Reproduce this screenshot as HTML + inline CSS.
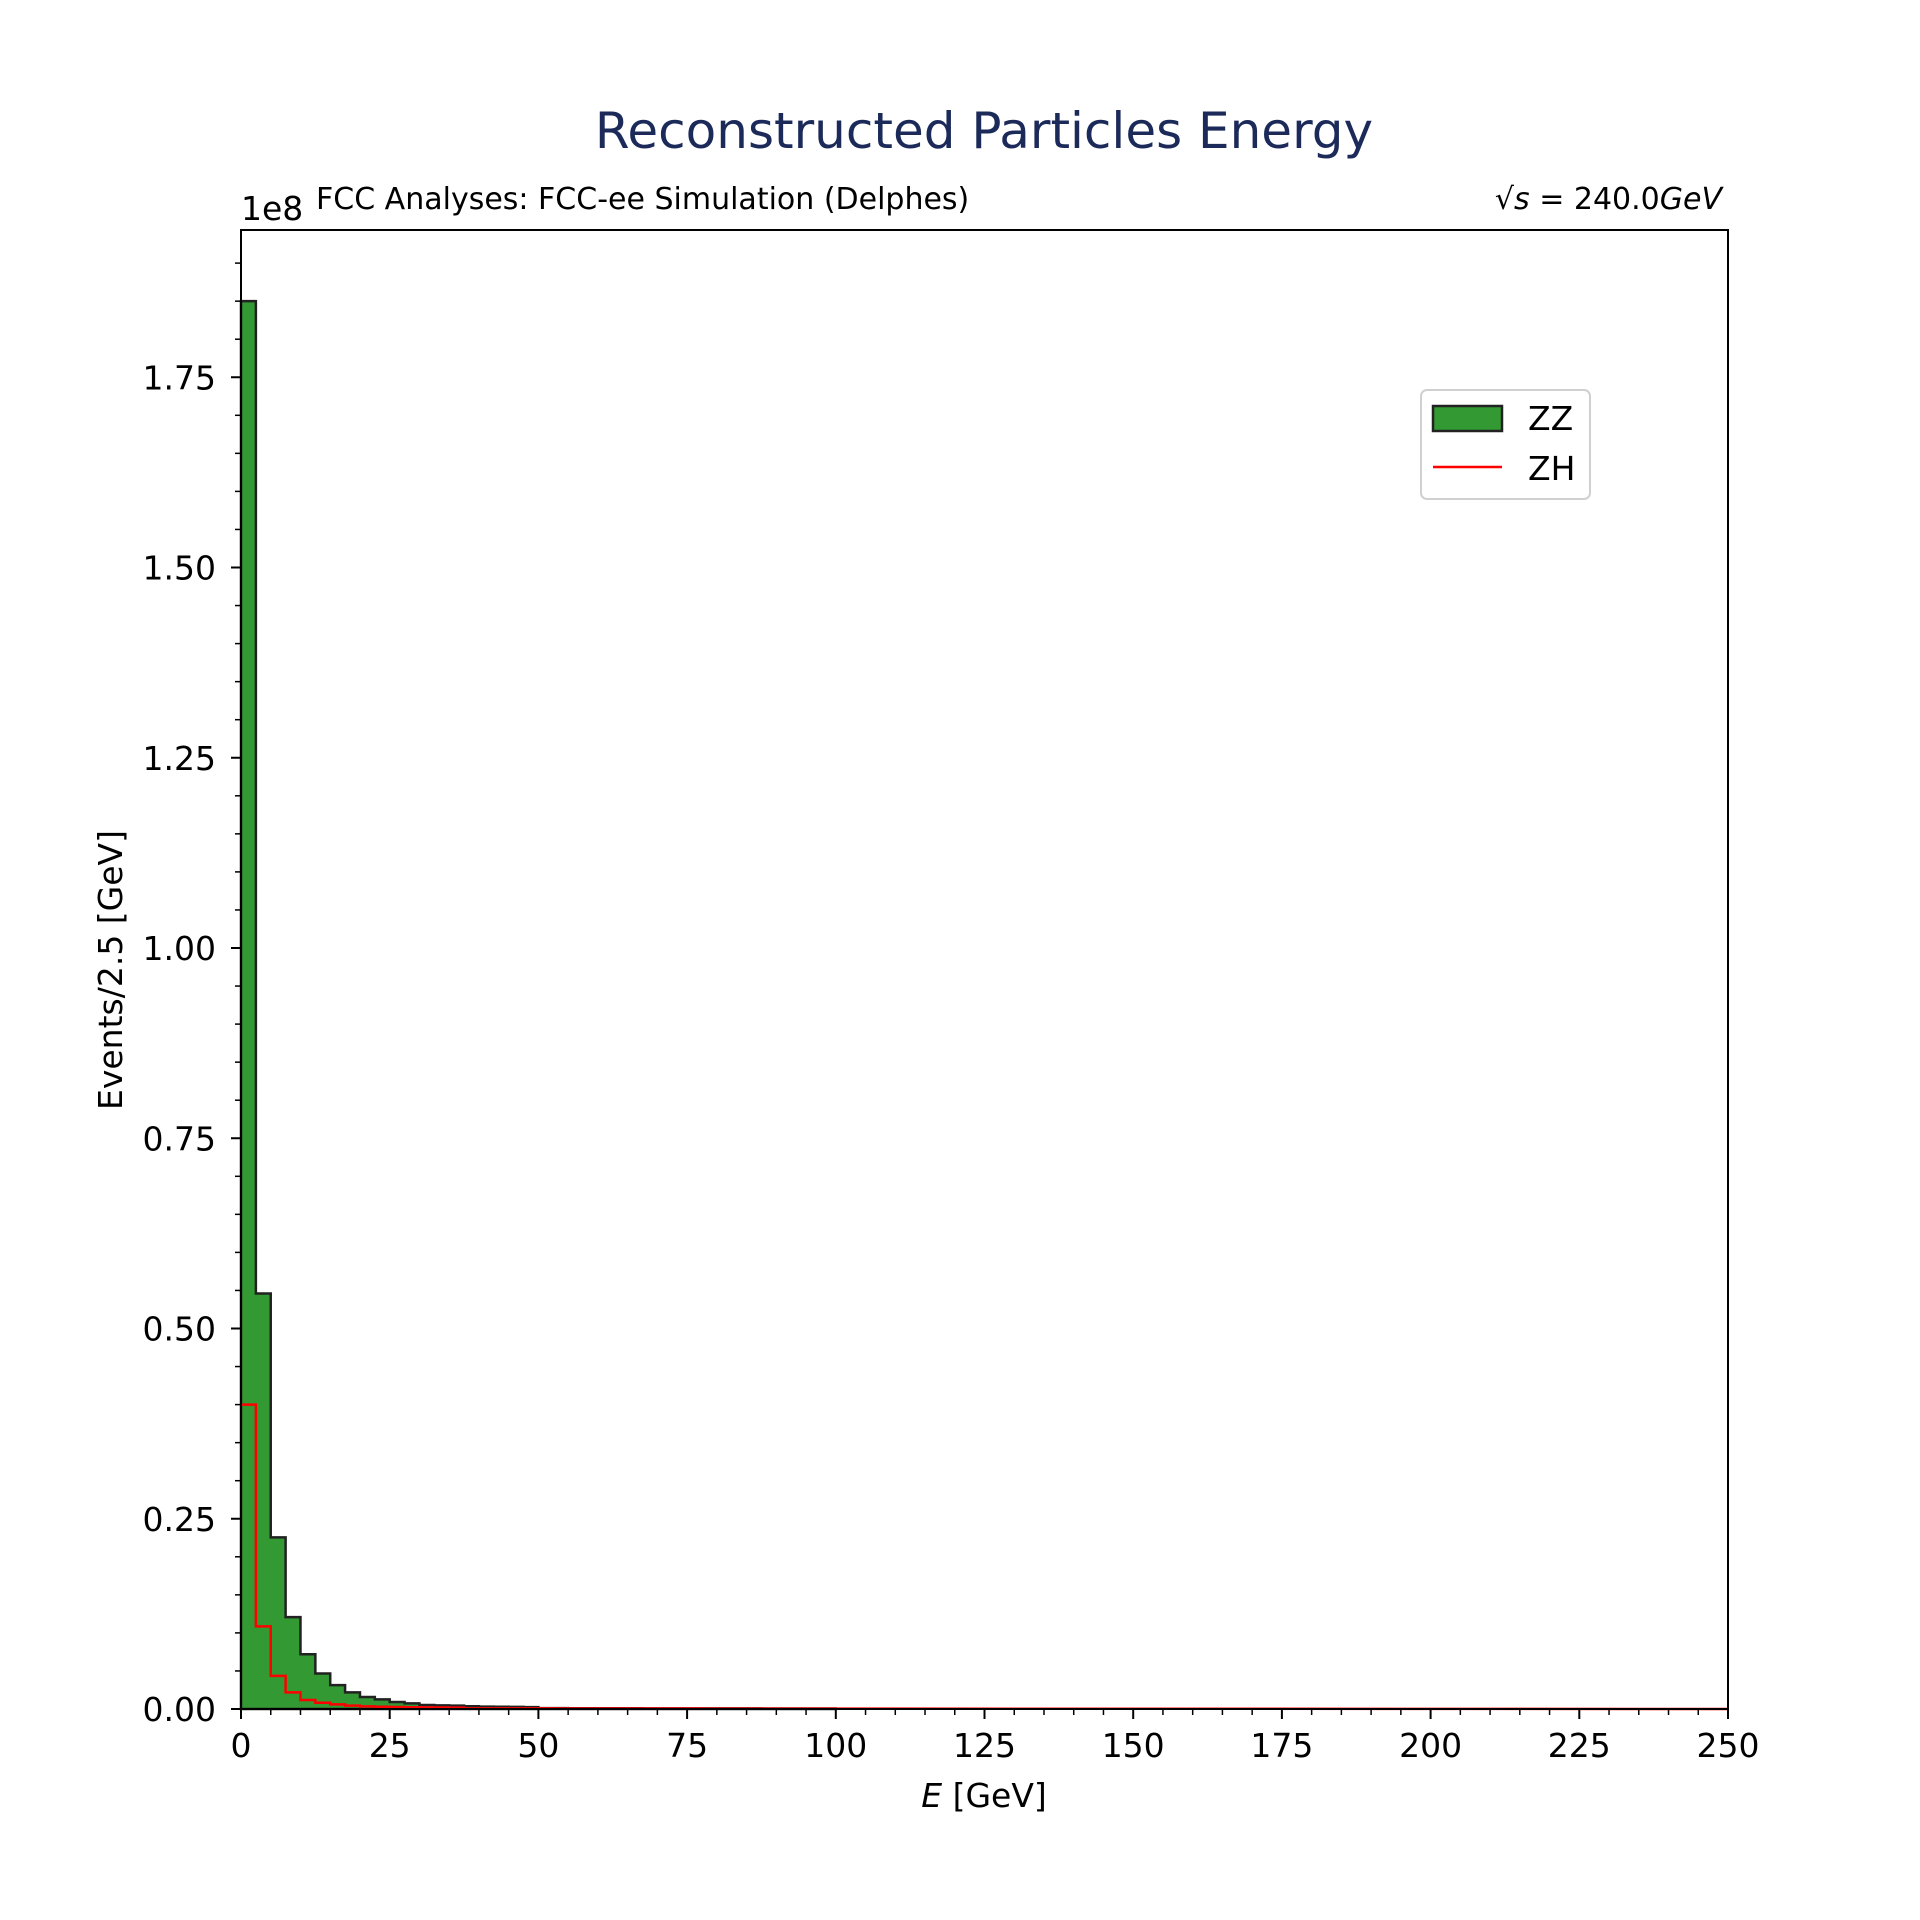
<!DOCTYPE html>
<html><head><meta charset="utf-8"><style>
html,body{margin:0;padding:0;background:#fff;}
svg{display:block;font-family:"DejaVu Sans","Liberation Sans",sans-serif;}
</style></head><body>
<svg id="chart" width="1920" height="1920" viewBox="0 0 1920 1920" xmlns="http://www.w3.org/2000/svg">
<rect width="1920" height="1920" fill="#fff"/>
<text x="984" y="148" font-size="50" fill="#1c2a5a" text-anchor="middle">Reconstructed Particles Energy</text>
<text x="316" y="209" font-size="30" fill="#000">FCC Analyses: FCC-ee Simulation (Delphes)</text>
<text x="1722" y="209" font-size="30" fill="#000" text-anchor="end"><tspan font-style="normal">√</tspan><tspan font-style="italic">s</tspan> = 240.0<tspan font-style="italic">GeV</tspan></text>
<text x="241" y="220" font-size="33" fill="#000">1e8</text>
<g id="bars"></g>
<g id="axes"></g>
<text x="984" y="1807" font-size="33" text-anchor="middle"><tspan font-style="italic">E</tspan> [GeV]</text>
<text transform="translate(122,970) rotate(-90)" font-size="33" text-anchor="middle">Events/2.5 [GeV]</text>
<g>
<rect x="1421" y="390" width="169" height="109" rx="6" fill="#fff" fill-opacity="0.8" stroke="#d0d0d0" stroke-width="2"/>
<rect x="1433" y="406" width="69" height="25" fill="#339933" stroke="#222" stroke-width="2.5"/>
<text x="1528" y="430" font-size="33">ZZ</text>
<line x1="1433" y1="467" x2="1502" y2="467" stroke="#ff0000" stroke-width="2.5"/>
<text x="1528" y="480" font-size="33">ZH</text>
</g>
</svg>
<script>
const binWidth = 2.5;
const zzValues = [1.85,0.546,0.2255,0.1208,0.072,0.0467,0.0314,0.0218,0.0157,0.0127,0.0092,0.0074,0.0052,0.0048,0.0044,0.0036,0.0032,0.003,0.0028,0.0025,0.0012,0.0011,0.001,0.001,0.001,0.001,0.001,0.0009,0.0009,0.0009,0.0008,0.0008,0.0008,0.0008,0.0008,0.0007,0.0007,0.0007,0.0007,0.0006];
const zhValues = [0.40,0.1086,0.0436,0.0218,0.0118,0.0082,0.006,0.0044,0.0035,0.003,0.0026,0.0023,0.0021,0.002,0.0018,0.0009,0.0009,0.0008,0.0008,0.0008,0.0008,0.0007,0.0007,0.0007,0.0007,0.0006,0.0006,0.0006,0.0006,0.0006,0.0006,0.0005,0.0005,0.0005,0.0005,0.0005,0.0005,0.0005,0.0005];
const xTicks = [0,25,50,75,100,125,150,175,200,225,250];
const yTicks = [0,0.25,0.5,0.75,1.0,1.25,1.5,1.75];
const yTickLabels = ["0.00","0.25","0.50","0.75","1.00","1.25","1.50","1.75"];

const L=241,R=1728,T=230,B=1709,XMAX=250,YMAX=(1709-230)/761;
const xs=v=>L+(R-L)*v/XMAX;
const ys=v=>B-(B-T)*v/YMAX;
const NS="http://www.w3.org/2000/svg";
function mk(tag,attrs,parent){const e=document.createElementNS(NS,tag);for(const k in attrs)e.setAttribute(k,attrs[k]);parent.appendChild(e);return e;}
const bars=document.getElementById('bars');
let d="M"+xs(0)+","+ys(0);
zzValues.forEach((v,i)=>{d+=" L"+xs(i*binWidth)+","+ys(v)+" L"+xs((i+1)*binWidth)+","+ys(v);});
d+=" L"+xs(zzValues.length*binWidth)+","+ys(0)+" Z";
const zz=mk('path',{d:d,fill:'#339933',stroke:'#222','stroke-width':2.5,'stroke-linejoin':'miter'},bars);


let d2="M"+xs(0)+","+ys(zhValues[0]);
zhValues.forEach((v,i)=>{d2+=" L"+xs(i*binWidth)+","+ys(v)+" L"+xs((i+1)*binWidth)+","+ys(v);});
d2+=" L"+xs(XMAX)+","+ys(0);
const zh=mk('path',{d:d2,fill:'none',stroke:'#ff0000','stroke-width':2.5},bars);



const ax=document.getElementById('axes');
const frame=mk('rect',{x:L,y:T,width:R-L,height:B-T,fill:'none',stroke:'#000','stroke-width':2},ax);


for(let v=0;v<=XMAX+0.01;v+=5){
  const major=v%25===0;
  mk('line',{x1:xs(v),y1:B,x2:xs(v),y2:B+(major?10:6),stroke:'#000','stroke-width':major?2:1.5},ax);
}
xTicks.forEach(v=>{
  const t=mk('text',{x:xs(v),y:1757,'font-size':33,'text-anchor':'middle'},ax);
  t.textContent=v;
  
  
});
for(let i=0;i*0.05<=YMAX;i++){
  const v=i*0.05, major=i%5===0;
  mk('line',{x1:L,y1:ys(v),x2:L-(major?10:6),y2:ys(v),stroke:'#000','stroke-width':major?2:1.5},ax);
}
yTicks.forEach((v,i)=>{
  const t=mk('text',{x:216,y:ys(v)+12,'font-size':33,'text-anchor':'end'},ax);
  t.textContent=yTickLabels[i];
  
  
});
</script>
</body></html>
